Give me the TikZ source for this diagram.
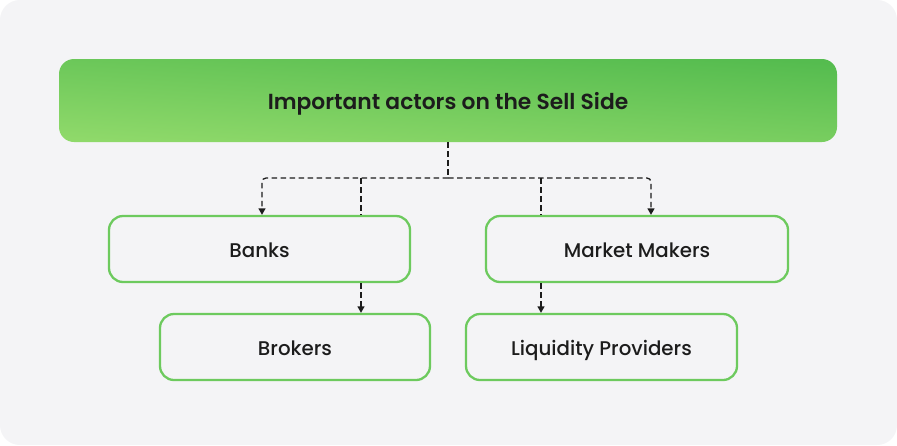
\documentclass[tikz,border=0pt]{standalone}
\usepackage{fontspec}
\setmainfont{Poppins}
\newfontfamily\titlefont{Poppins SemiBold}
\newfontfamily\boxfont{Poppins Medium}
\usetikzlibrary{positioning,arrows.meta}

\definecolor{bgpaper}{HTML}{F4F4F6}
\definecolor{boxgreen}{HTML}{6DCA5E}
\definecolor{headdark}{HTML}{55BC4F}
\definecolor{headlight}{HTML}{8FD96A}
\definecolor{ink}{HTML}{1C1C1C}

\begin{document}
\begin{tikzpicture}[x=1pt,y=-1pt]
\tikzset{actor/.style={draw=boxgreen, line width=2.3pt, rounded corners=14pt, fill=bgpaper, minimum height=66pt, text height=20pt, text depth=4pt, text=ink, font=\boxfont\fontsize{19.8}{23}\selectfont}}
\tikzset{link/.style={draw=ink, line width=1.3pt, dash pattern=on 5.5pt off 3.5pt}}
\tikzset{tip/.style={-{Triangle[length=6.5pt,width=7pt]}}}
\useasboundingbox (0,0) rectangle (897,445);
\fill[white] (0,0) rectangle (897,445);
\fill[bgpaper, rounded corners=20pt] (0,0) rectangle (897,445);
\node[shade, top color=headdark, bottom color=headlight, shading angle=-4, rounded corners=15pt, minimum width=778pt, minimum height=83pt, text height=23pt, text depth=5pt, text=ink, font=\titlefont\fontsize{21.8}{26}\selectfont] (title) at (448,100.5) {Important actors on the Sell Side};
\node[actor, minimum width=301pt] (banks) at (259.5,249) {Banks};
\node[actor, minimum width=302pt] (makers) at (637,249) {Market Makers};
\node[actor, minimum width=270pt] (brokers) at (295,347) {Brokers};
\node[actor, minimum width=271pt] (liquidity) at (601.5,347) {Liquidity Providers};
% dashed tree
\coordinate (split) at (448,178);
\coordinate (bankin) at (262,178);
\coordinate (bankdrop) at (361,178);
\coordinate (liqdrop) at (541,178);
\coordinate (makerin) at (651,178);
\draw[link] (title.south) -- (split);
\draw[link, tip, rounded corners=4pt] (split) -- (bankin) -- (bankin |- banks.north);
\draw[link, tip, rounded corners=4pt] (split) -- (makerin) -- (makerin |- makers.north);
\draw[link] (bankdrop) -- (bankdrop |- banks.north);
\draw[link] (liqdrop) -- (liqdrop |- makers.north);
\draw[link, tip] (bankdrop |- banks.south) -- (bankdrop |- brokers.north);
\draw[link, tip] (liqdrop |- makers.south) -- (liqdrop |- liquidity.north);
\end{tikzpicture}
\end{document}
